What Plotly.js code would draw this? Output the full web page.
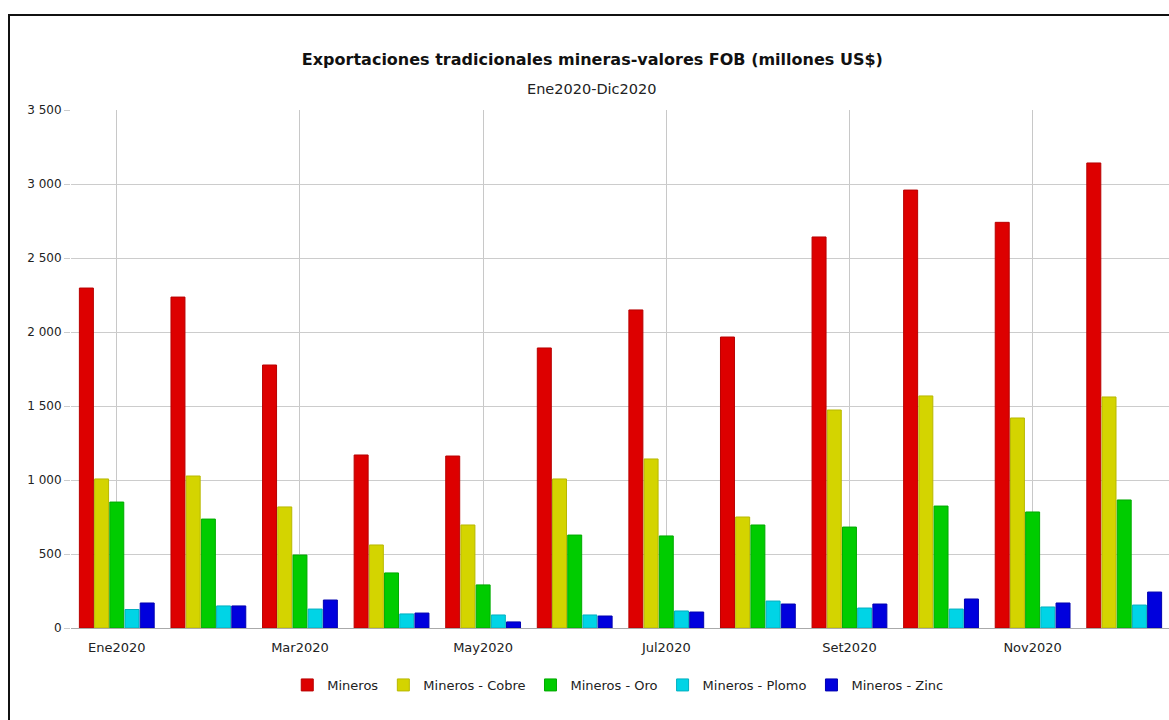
<!DOCTYPE html>
<html>
<head>
<meta charset="utf-8">
<script src="https://cdn.plot.ly/plotly-3.0.1.min.js"></script>
<style>
  html, body { margin:0; padding:0; background:#fff; overflow:hidden; width:1169px; height:720px; }
  #frame { position:absolute; left:8px; top:14px; width:1300px; height:900px; border:2px solid #111; pointer-events:none; z-index:2; }
  #chart { position:absolute; left:0; top:0; z-index:1; }
</style>
</head>
<body>
<div id="frame"></div>
<div id="chart"></div>
<script>
const months = ["Ene2020","Feb2020","Mar2020","Abr2020","May2020","Jun2020","Jul2020","Ago2020","Set2020","Oct2020","Nov2020","Dic2020"];
const tickMonths = ["Ene2020","Mar2020","May2020","Jul2020","Set2020","Nov2020"];
const seriesNames = ["Mineros","Mineros - Cobre","Mineros - Oro","Mineros - Plomo","Mineros - Zinc"];
const mineros = [2297, 2236, 1777, 1169, 1162, 1892, 2149, 1966, 2642, 2959, 2741, 3142];
const cobre   = [1007, 1027, 818, 561, 696, 1007, 1142, 750, 1473, 1568, 1419, 1561];
const oro     = [851, 736, 493, 372, 291, 628, 622, 696, 682, 824, 784, 865];
const plomo   = [125, 149, 128, 95, 88, 88, 115, 182, 135, 128, 142, 155];
const zinc    = [169, 149, 189, 101, 41, 81, 108, 162, 162, 196, 169, 243];
const titleText = "Exportaciones tradicionales mineras-valores FOB (millones US$)";
const subtitleText = "Ene2020-Dic2020";

const seriesValues = [mineros, cobre, oro, plomo, zinc];
const fillColors = ["#dd0000", "#d4d400", "#00cc00", "#00d4e6", "#0000dd"];
const lineColors = ["#b80000", "#b8b800", "#00aa00", "#00b0c0", "#0000b0"];

const traces = seriesValues.map((vals, i) => ({
  type: "bar",
  name: seriesNames[i],
  x: months,
  y: vals,
  marker: { color: fillColors[i], line: { color: lineColors[i], width: 1 } }
}));

const font = "DejaVu Sans, Verdana, sans-serif";
const layout = {
  width: 1180, height: 720,
  margin: { l: 71, r: 9.5, t: 110, b: 92 },
  paper_bgcolor: "rgba(0,0,0,0)",
  plot_bgcolor: "#fff",
  separators: ". ",
  barmode: "group",
  bargap: 0.17,
  bargroupgap: 0.08,
  font: { family: font, size: 12, color: "#222" },
  title: {
    text: "<b>" + titleText + "</b>",
    font: { family: font, size: 16, color: "#111" },
    x: 0.502, xanchor: "center", xref: "container",
    y: 1 - 59/720, yanchor: "middle", yref: "container"
  },
  annotations: [{
    text: subtitleText, showarrow: false,
    xref: "paper", yref: "paper",
    x: (592 - 71) / 1099.5, y: (628 - 89) / 518,
    xanchor: "center", yanchor: "middle",
    font: { family: font, size: 14.5, color: "#222" }
  }],
  xaxis: {
    type: "category",
    range: [-0.5, 11.5],
    tickmode: "array",
    tickvals: tickMonths,
    ticktext: tickMonths,
    showgrid: true, gridcolor: "#c8c8c8", gridwidth: 1,
    ticks: "", showline: true, linecolor: "#aaaaaa",
    ticklabelstandoff: 7,
    tickfont: { family: font, size: 13, color: "#222" },
    fixedrange: true
  },
  yaxis: {
    range: [0, 3500],
    tickvals: [0, 500, 1000, 1500, 2000, 2500, 3000, 3500],
    tickformat: ",d",
    showgrid: true, gridcolor: "#cccccc", gridwidth: 1,
    zeroline: true, zerolinecolor: "#aaaaaa",
    ticks: "outside", ticklen: 6, tickcolor: "#cccccc",
    tickfont: { family: font, size: 12, color: "#222" },
    fixedrange: true
  },
  legend: {
    orientation: "h",
    x: (618 - 71) / 1099.5, xanchor: "center", xref: "paper",
    y: -0.11, yanchor: "middle",
    font: { family: font, size: 13, color: "#222" },
    itemwidth: 30,
    traceorder: "normal"
  },
  showlegend: true
};

Plotly.newPlot("chart", traces, layout, { displayModeBar: false, staticPlot: true });
</script>
</body>
</html>
